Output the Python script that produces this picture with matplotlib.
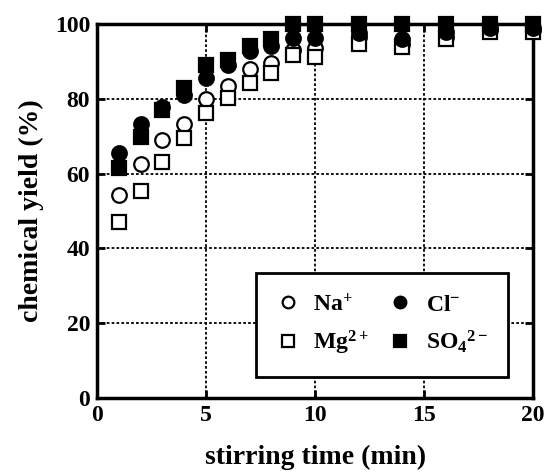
import matplotlib
matplotlib.use("Agg")
import matplotlib.pyplot as plt

plt.rcParams['font.family'] = ['Liberation Serif', 'DejaVu Serif']
plt.rcParams['font.weight'] = 'bold'
plt.rcParams['mathtext.fontset'] = 'custom'
plt.rcParams['mathtext.rm'] = 'Liberation Serif:bold'
plt.rcParams['mathtext.bf'] = 'Liberation Serif:bold'
plt.rcParams['mathtext.it'] = 'Liberation Serif:bold'
plt.rcParams['mathtext.default'] = 'bf'

time = [1, 2, 3, 4, 5, 6, 7, 8, 9, 10, 12, 14, 16, 18, 20]
na = [54.3, 62.5, 69.0, 73.4, 79.9, 83.4, 88.1, 89.7, 93.0, 93.5, 96.5, 94.8, 96.5, 98.5, 98.5]
mg = [47.0, 55.3, 63.2, 69.4, 76.1, 80.1, 84.3, 87.0, 91.7, 91.3, 94.6, 94.0, 96.0, 97.8, 97.8]
cl = [65.6, 73.4, 77.9, 81.0, 85.5, 89.0, 92.9, 94.1, 96.2, 96.2, 97.5, 96.0, 97.8, 99.0, 99.0]
so4 = [61.4, 69.9, 77.0, 82.8, 89.0, 90.5, 94.1, 95.9, 100, 100, 100, 100, 100, 100, 100]

labels = ['Na$^{+}$', 'Mg$^{2+}$', 'Cl$^{-}$', 'SO$_{4}{}^{2-}$']

fig = plt.figure(figsize=(5.48, 4.73), dpi=100)
ax = fig.add_axes([0.177, 0.159, 0.796, 0.790])

ms = 10.5
mew = 1.6
ax.plot(time, na, 'o', ms=ms, mfc='white', mec='black', mew=mew, label=labels[0], clip_on=False, zorder=3)
ax.plot(time, mg, 's', ms=ms, mfc='white', mec='black', mew=mew, label=labels[1], clip_on=False, zorder=3)
ax.plot(time, cl, 'o', ms=ms, mfc='black', mec='black', mew=mew, label=labels[2], clip_on=False, zorder=4)
ax.plot(time, so4, 's', ms=ms, mfc='black', mec='black', mew=mew, label=labels[3], clip_on=False, zorder=4)

ax.set_xlim(0, 20)
ax.set_ylim(0, 100)
ax.set_xticks([0, 5, 10, 15, 20])
ax.set_yticks([0, 20, 40, 60, 80, 100])
ax.grid(True, color='black', linestyle=(0, (1.5, 1.2)), linewidth=1.3)
ax.set_axisbelow(True)
ax.tick_params(direction='in', length=6, width=2, top=True, right=True,
               labelsize=17, pad=5)
for lab in ax.get_xticklabels() + ax.get_yticklabels():
    lab.set_fontweight('bold')
for s in ax.spines.values():
    s.set_linewidth(2.5)

ax.set_xlabel('stirring time (min)', fontsize=20, fontweight='bold', labelpad=14)
ax.set_ylabel('chemical yield (%)', fontsize=20, fontweight='bold', labelpad=8)

leg = ax.legend(ncol=2, loc='lower right', bbox_to_anchor=(0.943, 0.056),
                borderaxespad=0,
                fontsize=17, frameon=True, fancybox=False, markerscale=0.8,
                handletextpad=0.6, columnspacing=0.8, borderpad=0.85,
                labelspacing=0.55, handlelength=1.0)
leg.get_frame().set_edgecolor('black')
leg.get_frame().set_linewidth(2)
leg.get_frame().set_alpha(1)

fig.savefig('out.png', dpi=100)
